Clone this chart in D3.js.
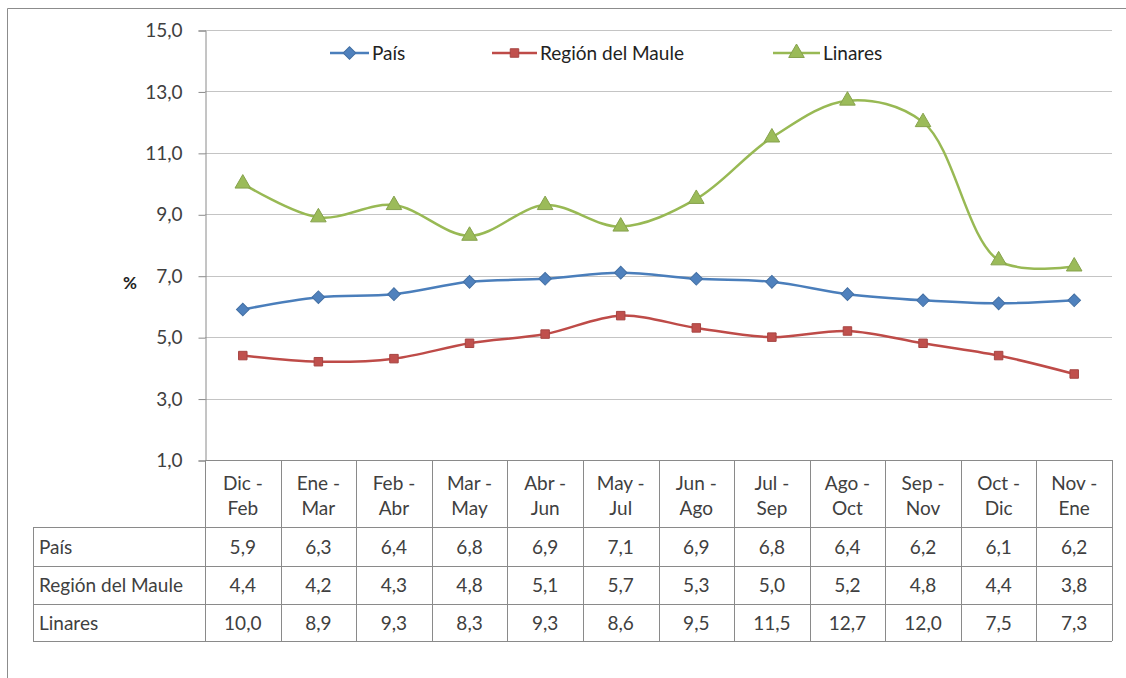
<!DOCTYPE html>
<html>
<head>
<meta charset="utf-8">
<script src="https://cdn.jsdelivr.net/npm/d3@7"></script>
<style>
  body { margin: 0; background: #fff; }
  svg { font-family: Lato, "Open Sans", sans-serif; }
</style>
</head>
<body>
<script>
"use strict";

var periodTop = ["Dic -", "Ene -", "Feb -", "Mar -", "Abr -", "May -", "Jun -", "Jul -", "Ago -", "Sep -", "Oct -", "Nov -"];
var periodBottom = ["Feb", "Mar", "Abr", "May", "Jun", "Jul", "Ago", "Sep", "Oct", "Nov", "Dic", "Ene"];
var pais = [5.9, 6.3, 6.4, 6.8, 6.9, 7.1, 6.9, 6.8, 6.4, 6.2, 6.1, 6.2];
var maule = [4.4, 4.2, 4.3, 4.8, 5.1, 5.7, 5.3, 5.0, 5.2, 4.8, 4.4, 3.8];
var linares = [10.0, 8.9, 9.3, 8.3, 9.3, 8.6, 9.5, 11.5, 12.7, 12.0, 7.5, 7.3];
var yTicks = [1, 3, 5, 7, 9, 11, 13, 15];

var series = [
  { name: "País", values: pais, color: "#4a7ebb", fill: "#4f81bd", marker: "diamond" },
  { name: "Región del Maule", values: maule, color: "#be4b48", fill: "#c0504d", marker: "square" },
  { name: "Linares", values: linares, color: "#98b954", fill: "#9bbb59", marker: "triangle" }
];

var width = 1126, height = 678;
var plotLeft = 205, plotRight = 1112, plotTop = 30, plotBottom = 460;
var rowTops = [527, 566, 604, 641];
var labelLeft = 33;
var fontSize = "19px";
var gridColor = "#c4c4c4", lineColor = "#8a8a8a", textColor = "#404040";
var fmt = function (v) { return d3.format(".1f")(v).replace(".", ","); };

var svg = d3.select("body").append("svg")
    .attr("width", width)
    .attr("height", height);

// outer frame (only left and top edges visible)
svg.append("path")
    .attr("d", "M7.5," + height + "V8.5H" + width)
    .attr("fill", "none")
    .attr("stroke", "#8c8c8c");

var x = d3.scaleBand()
    .domain(d3.range(periodTop.length))
    .range([plotLeft, plotRight]);

var y = d3.scaleLinear()
    .domain([1, 15])
    .range([plotBottom, plotTop]);

// gridlines
svg.append("g")
    .selectAll("line")
    .data(yTicks.filter(function (d) { return d > 1; }))
    .enter()
      .append("line")
      .attr("x1", plotLeft)
      .attr("x2", plotRight)
      .attr("y1", function (d) { return Math.round(y(d)) + 0.5; })
      .attr("y2", function (d) { return Math.round(y(d)) + 0.5; })
      .attr("stroke", gridColor);

// y axis
var yAxis = svg.append("g")
    .attr("transform", "translate(" + (plotLeft + 0.5) + ",0.5)")
    .call(d3.axisLeft(y).tickValues(yTicks).tickFormat(fmt).tickSize(7).tickPadding(16));
yAxis.select(".domain").attr("stroke", lineColor);
yAxis.selectAll(".tick line").attr("stroke", lineColor);
yAxis.selectAll(".tick text")
    .attr("fill", textColor)
    .style("font-size", fontSize)
    .style("font-family", "Lato, sans-serif");

svg.append("text")
    .attr("x", 130)
    .attr("y", 289)
    .attr("text-anchor", "middle")
    .attr("fill", "#222")
    .style("font-size", "17px")
    .style("font-weight", "bold")
    .text("%");

// data table
var table = svg.append("g")
    .attr("stroke", lineColor)
    .attr("shape-rendering", "crispEdges");

table.append("line").attr("x1", plotLeft).attr("x2", plotRight).attr("y1", plotBottom).attr("y2", plotBottom);
rowTops.forEach(function (r) {
  table.append("line").attr("x1", labelLeft).attr("x2", plotRight).attr("y1", r).attr("y2", r);
});
table.append("line").attr("x1", labelLeft).attr("x2", labelLeft).attr("y1", rowTops[0]).attr("y2", rowTops[3]);
table.selectAll(".col")
    .data(d3.range(periodTop.length + 1))
    .enter()
      .append("line")
      .attr("class", "col")
      .attr("x1", function (d) { return Math.round(plotLeft + d * x.bandwidth()); })
      .attr("x2", function (d) { return Math.round(plotLeft + d * x.bandwidth()); })
      .attr("y1", plotBottom)
      .attr("y2", rowTops[3]);

var header = svg.append("g")
    .attr("fill", textColor)
    .attr("text-anchor", "middle")
    .style("font-size", fontSize);

header.selectAll(".t1")
    .data(periodTop)
    .enter()
      .append("text")
      .attr("x", function (d, i) { return x(i) + x.bandwidth() / 2; })
      .attr("y", 490)
      .text(function (d) { return d; });

header.selectAll(".t2")
    .data(periodBottom)
    .enter()
      .append("text")
      .attr("x", function (d, i) { return x(i) + x.bandwidth() / 2; })
      .attr("y", 515)
      .text(function (d) { return d; });

series.forEach(function (s, r) {
  var cy = (rowTops[r] + rowTops[r + 1]) / 2 + 7;
  svg.append("text")
      .attr("x", labelLeft + 6)
      .attr("y", cy)
      .attr("fill", textColor)
      .style("font-size", fontSize)
      .text(s.name);
  svg.append("g")
      .selectAll("text")
      .data(s.values)
      .enter()
        .append("text")
        .attr("x", function (d, i) { return x(i) + x.bandwidth() / 2; })
        .attr("y", cy)
        .attr("text-anchor", "middle")
        .attr("fill", textColor)
        .style("font-size", fontSize)
        .text(fmt);
});

// markers
var symbolFor = {
  diamond: d3.symbol().type(d3.symbolSquare).size(80),
  square: d3.symbol().type(d3.symbolSquare).size(72),
  triangle: d3.symbol().type(d3.symbolTriangle).size(105)
};
var rotateFor = { diamond: " rotate(45)", square: "", triangle: "" };

var line = d3.line()
    .x(function (d, i) { return x(i) + x.bandwidth() / 2; })
    .y(function (d) { return y(d); })
    .curve(d3.curveCatmullRom.alpha(0.5));

series.forEach(function (s) {
  svg.append("path")
      .datum(s.values)
      .attr("d", line)
      .attr("fill", "none")
      .attr("stroke", s.color)
      .attr("stroke-width", 2.5);

  svg.append("g")
      .selectAll("path")
      .data(s.values)
      .enter()
        .append("path")
        .attr("d", symbolFor[s.marker])
        .attr("transform", function (d, i) {
          return "translate(" + (x(i) + x.bandwidth() / 2) + "," + y(d) + ")" + rotateFor[s.marker];
        })
        .attr("fill", s.fill)
        .attr("stroke", d3.color(s.fill).darker(0.4))
        .attr("stroke-width", 1);
});

// legend
var legendItems = [
  { s: series[0], x0: 330, x1: 369 },
  { s: series[1], x0: 492, x1: 537 },
  { s: series[2], x0: 773, x1: 820 }
];
var legend = svg.append("g");
legendItems.forEach(function (item) {
  var ly = 53;
  legend.append("line")
      .attr("x1", item.x0).attr("x2", item.x1)
      .attr("y1", ly).attr("y2", ly)
      .attr("stroke", item.s.color)
      .attr("stroke-width", 2.5);
  legend.append("path")
      .attr("d", symbolFor[item.s.marker])
      .attr("transform", "translate(" + ((item.x0 + item.x1) / 2) + "," + ly + ")" + rotateFor[item.s.marker])
      .attr("fill", item.s.fill)
      .attr("stroke", d3.color(item.s.fill).darker(0.4));
  legend.append("text")
      .attr("x", item.x1 + 3)
      .attr("y", ly + 7)
      .attr("fill", "#222")
      .style("font-size", fontSize)
      .text(item.s.name);
});
</script>
</body>
</html>
